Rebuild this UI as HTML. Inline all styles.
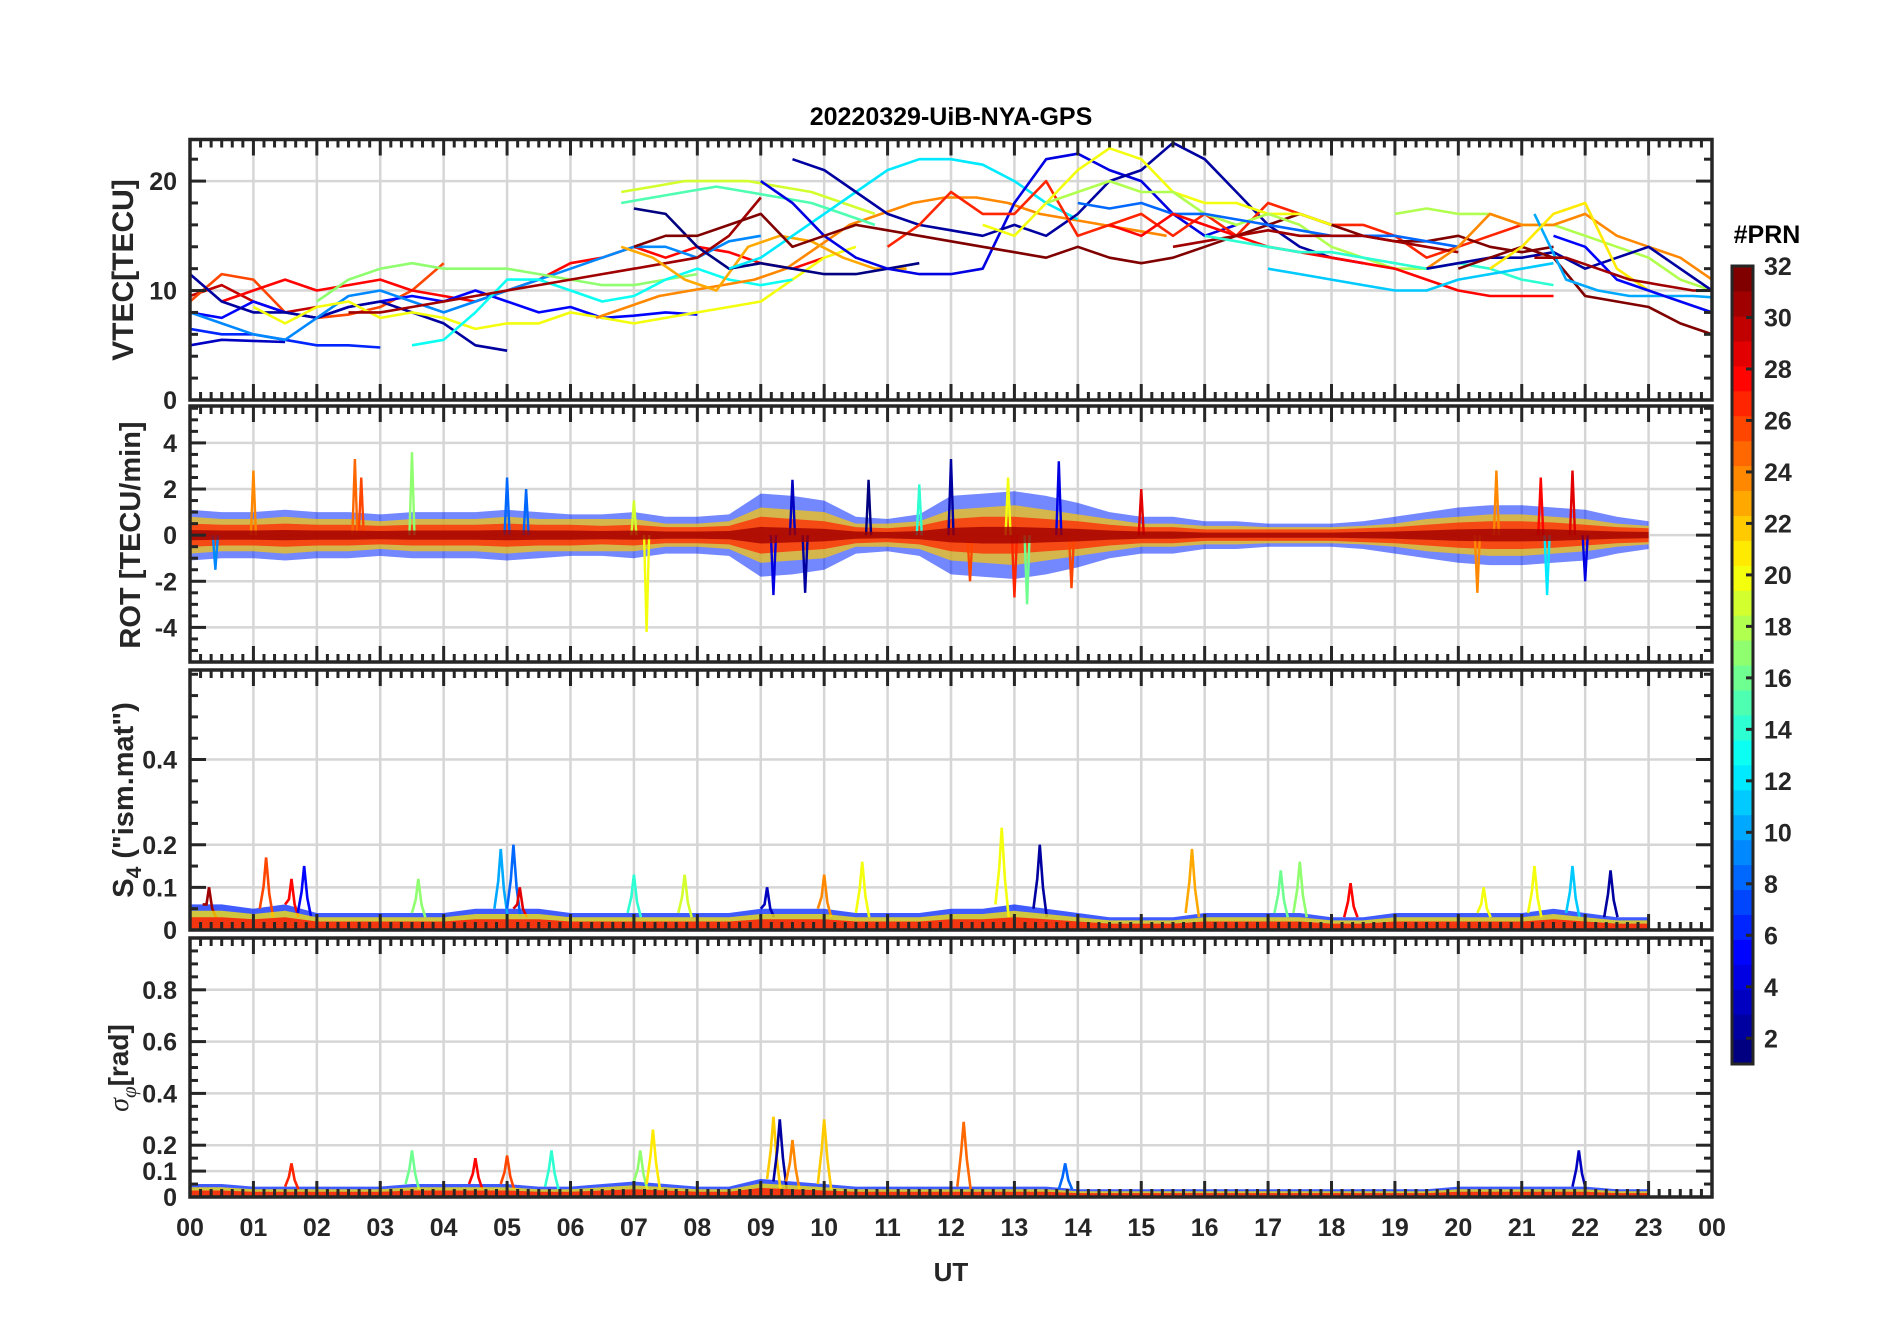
<!DOCTYPE html>
<html><head><meta charset="utf-8">
<style>
html,body{margin:0;padding:0;background:#fff;}
svg{display:block;font-family:"Liberation Sans",Arial,sans-serif;font-weight:bold;}
</style></head>
<body>
<svg id="fig" width="1902" height="1330" viewBox="0 0 1902 1330" xmlns="http://www.w3.org/2000/svg">
<rect width="1902" height="1330" fill="#fff"/>
<text x="951" y="125" font-size="25" text-anchor="middle" fill="#000">20220329-UiB-NYA-GPS</text>
<text x="951" y="1281" font-size="26" text-anchor="middle" fill="#262626">UT</text>
<text transform="translate(133,270) rotate(-90)" font-size="30" text-anchor="middle" fill="#262626">VTEC[TECU]</text>
<text transform="translate(140,535) rotate(-90)" font-size="29" text-anchor="middle" fill="#262626">ROT [TECU/min]</text>
<text transform="translate(133,800) rotate(-90)" font-size="29" text-anchor="middle" fill="#262626">S<tspan font-size="21" dy="8">4</tspan><tspan dy="-8"> ("ism.mat")</tspan></text>
<text transform="translate(128,1068) rotate(-90)" font-size="28" text-anchor="middle" fill="#262626"><tspan font-style="italic" font-weight="normal" font-family="'Liberation Serif',serif">σ</tspan><tspan font-size="21" dy="8" font-style="italic" font-weight="normal" font-family="'Liberation Serif',serif">φ</tspan><tspan dy="-8">[rad]</tspan></text>
<text x="1767" y="243" font-size="25" text-anchor="middle" fill="#000">#PRN</text>
</svg>
<script>
// ---------- data ----------
const hourLabels = ["00","01","02","03","04","05","06","07","08","09","10","11","12","13","14","15","16","17","18","19","20","21","22","23","00"];
const vtecTicks = [0,10,20];
const rotTicks = [-4,-2,0,2,4];
const s4Ticks = [0,0.1,0.2,0.4];
const s4TickLabels = ["0","0.1","0.2","0.4"];
const sigTicks = [0,0.1,0.2,0.4,0.6,0.8];
const sigTickLabels = ["0","0.1","0.2","0.4","0.6","0.8"];
const cbTicks = [2,4,6,8,10,12,14,16,18,20,22,24,26,28,30,32];

// VTEC tracks: PRN, start hour, values every 0.5 h
const vtecPrn   = [30,26,28,5,3,6,2,9,20,17,13,31,24,23,19,15,1,12,4,2,27,32,20,18,8,28,31,14,11,18,24,2,32,10,21,5,31];
const vtecStart = [0,0,0.5,0,0,0,0,0,1,2,3.5,2.5,6.4,6.8,6.8,6.8,7,8.5,9,9.5,11,7,12.5,13.5,14,14.5,15.5,16,17,19,19.5,19.5,20,21.2,20.5,21.5,21.2];
const vtecValues = [
 [9.5,10.5,9,8,8.5],
 [9,11.5,11,8,7.5,7.8,8.5,10,12.5],
 [9,10,11,10,10.5,11,10,9.5,9,10,11,12.5,13,14,13,14,13.5,12.5,12,13],
 [8,7.5,9,8,7.5,8.5,9,9.5,9,10,9,8,8.5,7.5,7.7,8,7.8],
 [5,5.5,5.4,5.3],
 [6.5,6,6,5.5,5,5,4.8],
 [11.5,9,8,8,7.5,8.5,9,8,7,5,4.5],
 [8,7,6,5.5,7.5,9.5,10,9,8,9,10,11,12,13,14,14,13,14.5,15],
 [8.5,7,8.5,9,7.5,8,7.5,6.5,7,7,8,7.5,7,7.5,8,8.5,9,11,13,14],
 [9,11,12,12.5,12,12,12,11.5,11,10.5,10.5,11,11.5],
 [5,5.5,8,11,11,10,9,9.5,11,12,11,10.5,11],
 [8,8,8.5,9,9.5,10,10.5,11,11.5,12,12.5,13,15,18.5],
 [7.5,8.5,9.5,10,10.5,11,12,14,16,17,18,18.5,18.5,18,17,16.5,16,15.5,15],
 [14,13,11,10,14,15,14.5,13,12,12],
 [19,19.5,20,20,20,19.5,19,18,17],
 [18,18.5,19,19.5,19,18.5,18,17,16],
 [17.5,17,14,12,12.5,12,11.5,11.5,12,12.5],
 [12,13,15,17,19,21,22,22,21.5,20,18,16.5],
 [20,18,15,13,12,11.5,11.5,12,18,22,22.5,21,20,17,15,16],
 [22,21,19,17,16,15.5,15,16,15,17,20,21,23.5,22,19,16,14,13,12.5],
 [14,16,19,17,17,20,15,16,17,15,17,15,18,17,16,16,15,13,14,15,16],
 [14,15,15,16,17,14,15,16,15.5,15,14.5,14,13.5,13,14,13,12.5,13,14,15,16,17,16,15,14.5,14.5,15,14,13.5,14],
 [16,15,18,21,23,22,19,18,18,17,17,16],
 [18,19,20,19,19,17,16,17,16,14,13,12,12],
 [18,17.5,18,17,17,16.5,16,15.5,15,15,15,14.5,14],
 [16,15,17,16,15,14,13.5,13,12.5,12,11,10,9.5,9.5,9.5],
 [14,14.5,15,15.5,15,15,15,14.5,14,13.5],
 [15,14.5,14,13.5,13.5,13,12.5,12,12.5,12,11,10.5],
 [12,11.5,11,10.5,10,10,11,11.5,12,12.5],
 [17,17.5,17,17,16,16,15,14,13,11,10,9],
 [12,14,17,16,16,17,15,14,13,11,9.5,9,8.5],
 [12,12.5,13,13,13.5,12,13,14,12,10,9,8.5,8],
 [12,13,14,13,9.5,9,8.5,7,6],
 [17,11,10,9.5,9.5,9.5,9.3],
 [12,14,17,18,12,10,9,8,7.5,7],
 [15,14,11,10,9,8,7],
 [13,13,12,11,10.5,10,10]
];

// ROT envelopes every 0.5 h from 00 UT
const rotOuter = [1.1,1.0,1.0,1.1,1.0,1.0,0.9,1.0,1.0,1.0,1.1,1.0,0.9,0.9,1.0,0.8,0.8,0.9,1.8,1.7,1.5,0.8,0.7,0.9,1.7,1.8,1.9,1.7,1.4,1.0,0.8,0.8,0.6,0.6,0.5,0.5,0.5,0.6,0.8,1.0,1.2,1.3,1.3,1.2,1.1,0.8,0.6];
const rotMid   = [0.8,0.7,0.7,0.8,0.7,0.7,0.6,0.7,0.7,0.7,0.8,0.7,0.7,0.7,0.7,0.5,0.5,0.6,1.2,1.1,1.0,0.5,0.5,0.6,1.1,1.2,1.3,1.1,0.9,0.7,0.5,0.5,0.4,0.4,0.35,0.35,0.35,0.4,0.5,0.7,0.8,0.9,0.9,0.8,0.7,0.5,0.4];
const rotInner = [0.5,0.45,0.45,0.5,0.45,0.45,0.4,0.45,0.45,0.45,0.5,0.45,0.45,0.4,0.45,0.35,0.35,0.4,0.8,0.7,0.6,0.35,0.3,0.4,0.7,0.8,0.8,0.7,0.6,0.45,0.35,0.35,0.25,0.25,0.25,0.25,0.25,0.3,0.35,0.45,0.55,0.6,0.6,0.55,0.45,0.35,0.3];
const rotSpikeT = [0.4,1.0,2.6,2.7,3.5,5.0,5.3,7.0,7.2,9.2,9.5,9.7,10.7,11.5,12.0,12.3,12.9,13.0,13.2,13.7,13.9,15.0,20.3,20.6,21.3,21.4,21.8,22.0];
const rotSpikeV = [-1.5,2.8,3.3,2.5,3.6,2.5,2.0,1.5,-4.2,-2.6,2.4,-2.5,2.4,2.2,3.3,-2.0,2.5,-2.7,-3.0,3.2,-2.3,2.0,-2.5,2.8,2.5,-2.6,2.8,-2.0];
const rotSpikePrn=[9,24,25,26,17,8,8,19,20,4,3,2,1,14,2,26,20,27,16,4,26,29,24,24,28,12,29,4];

// S4 baseline every 0.5 h, and peaks
const s4Base = [0.06,0.06,0.05,0.06,0.04,0.04,0.04,0.04,0.04,0.05,0.05,0.05,0.04,0.04,0.04,0.04,0.04,0.04,0.05,0.05,0.05,0.04,0.04,0.04,0.05,0.05,0.06,0.05,0.04,0.03,0.03,0.03,0.04,0.04,0.04,0.04,0.03,0.03,0.04,0.04,0.04,0.04,0.04,0.05,0.04,0.03,0.03];
const s4PeakT = [0.3,1.2,1.6,1.8,3.6,4.9,5.1,5.2,7.0,7.8,9.1,10.0,10.6,12.8,13.4,15.8,17.2,17.5,18.3,20.4,21.2,21.8,22.4];
const s4PeakV = [0.10,0.17,0.12,0.15,0.12,0.19,0.20,0.10,0.13,0.13,0.10,0.13,0.16,0.24,0.20,0.19,0.14,0.16,0.11,0.10,0.15,0.15,0.14];
const s4PeakPrn=[31,26,28,5,17,10,8,29,14,19,3,24,20,20,2,23,16,17,28,20,20,11,2];

// sigma-phi baseline every 0.5 h, and peaks
const sigBase = [0.05,0.05,0.04,0.04,0.04,0.04,0.04,0.05,0.05,0.05,0.05,0.04,0.04,0.05,0.06,0.05,0.04,0.04,0.07,0.06,0.05,0.04,0.04,0.04,0.04,0.04,0.04,0.04,0.03,0.03,0.03,0.03,0.03,0.03,0.03,0.03,0.03,0.03,0.03,0.03,0.04,0.04,0.04,0.04,0.04,0.03,0.03];
const sigPeakT = [1.6,3.5,4.5,5.0,5.7,7.1,7.3,9.2,9.3,9.5,10.0,12.2,13.8,21.9];
const sigPeakV = [0.13,0.18,0.15,0.16,0.18,0.18,0.26,0.31,0.30,0.22,0.30,0.29,0.13,0.18];
const sigPeakPrn=[27,16,28,26,14,17,21,22,2,24,22,25,8,3];

// ---------- layout ----------
const NS="http://www.w3.org/2000/svg";
const svg=document.getElementById('fig');
const X0=190, X1=1712;
const xs=h=>X0+(X1-X0)*h/24;
const panels=[
 {name:'vtec',top:139.5,bot:400,min:0,max:23.8,major:vtecTicks,labels:vtecTicks.map(String),grid:vtecTicks,minor:2},
 {name:'rot',top:406,bot:662,min:-5.5,max:5.6,major:rotTicks,labels:rotTicks.map(String),grid:rotTicks,minor:0.5},
 {name:'s4',top:670,bot:930,min:0,max:0.61,major:s4Ticks,labels:s4TickLabels,grid:s4Ticks,minor:0.05},
 {name:'sigma',top:938,bot:1197,min:0,max:1.0,major:sigTicks,labels:sigTickLabels,grid:sigTicks,minor:0.05}
];
panels.forEach(p=>{p.y=v=>p.bot-(p.bot-p.top)*(v-p.min)/(p.max-p.min);});

function jet(n){const t=(n-1)/31;const c=x=>Math.round(255*Math.max(0,Math.min(1,x)));
 return `rgb(${c(1.5-Math.abs(4*t-3))},${c(1.5-Math.abs(4*t-2))},${c(1.5-Math.abs(4*t-1))})`;}
function mk(tag,attrs,parent){const e=document.createElementNS(NS,tag);for(const k in attrs)e.setAttribute(k,attrs[k]);(parent||svg).appendChild(e);return e;}

panels.forEach(p=>{
 const g=mk('g',{});
 
 
 const cp=mk('clipPath',{id:'clip-'+p.name},g);
 mk('rect',{x:X0,y:p.top,width:X1-X0,height:p.bot-p.top},cp);
 for(let h=1;h<24;h++){const l=mk('line',{x1:xs(h),x2:xs(h),y1:p.top,y2:p.bot,stroke:'#d6d6d6','stroke-width':2.5},g);
  
  }
 p.grid.forEach(v=>{const l=mk('line',{x1:X0,x2:X1,y1:p.y(v),y2:p.y(v),stroke:'#d6d6d6','stroke-width':2.5},g);
  
  });
 p.g=mk('g',{'clip-path':`url(#clip-${p.name})`},g);
 
 
 p.frame=g;
});

// VTEC series
const P1=panels[0];
vtecValues.forEach((vals,i)=>{
 const pts=vals.map((v,j)=>`${xs(vtecStart[i]+0.5*j).toFixed(1)},${P1.y(v).toFixed(1)}`).join(' ');
 const pl=mk('polyline',{points:pts,fill:'none',stroke:jet(vtecPrn[i]),'stroke-width':2.6,'stroke-linejoin':'round'},P1.g);
 
 
});

// ROT bands
const P2=panels[1];
function band(arr,prn,nm,op){
 const up=arr.map((v,j)=>`${xs(0.5*j).toFixed(1)},${P2.y(v).toFixed(1)}`);
 const dn=arr.map((v,j)=>`${xs(0.5*j).toFixed(1)},${P2.y(-v).toFixed(1)}`).reverse();
 const pg=mk('polygon',{points:up.concat(dn).join(' '),fill:jet(prn),'fill-opacity':op,stroke:'none'},P2.g);
 
 
}
band(rotOuter,6,'rot-band-outer',0.55);
band(rotMid,22,'rot-band-mid',0.7);
band(rotInner,27,'rot-band-inner',0.75);
rotSpikeT.forEach((t,i)=>{
 const pl=mk('polyline',{points:`${xs(t-0.04)},${P2.y(0)} ${xs(t)},${P2.y(rotSpikeV[i])} ${xs(t+0.04)},${P2.y(0)}`,fill:'none',stroke:jet(rotSpikePrn[i]),'stroke-width':2.4},P2.g);
 
 
});
band(rotInner.map(v=>v*0.45),31,'rot-band-core',0.8);

// baseline + peaks helper
function scint(p,base,pt,pv,pp,nm){
 const mkArea=(k,prn,n2)=>{
  const up=base.map((v,j)=>`${xs(0.5*j).toFixed(1)},${p.y(v*k).toFixed(1)}`);
  const pts=up.concat([`${xs(0.5*(base.length-1))},${p.y(0)}`,`${xs(0)},${p.y(0)}`]);
  const pg=mk('polygon',{points:pts.join(' '),fill:jet(prn),'fill-opacity':0.75,stroke:'none'},p.g);
  
  
 };
 mkArea(1,6,nm+'-baseline-blue');
 pt.forEach((t,i)=>{
  const pl=mk('polyline',{points:`${xs(t-0.1)},${p.y(base[Math.round(t*2)]||0.03)} ${xs(t-0.04)},${p.y(pv[i]*0.6)} ${xs(t)},${p.y(pv[i])} ${xs(t+0.05)},${p.y(pv[i]*0.5)} ${xs(t+0.11)},${p.y(0.03)}`,fill:'none',stroke:jet(pp[i]),'stroke-width':2.6},p.g);
  
  
 });
 mkArea(0.75,21,nm+'-baseline-yellow');
 mkArea(0.5,28,nm+'-baseline-red');
}
scint(panels[2],s4Base,s4PeakT,s4PeakV,s4PeakPrn,'s4');
scint(panels[3],sigBase,sigPeakT,sigPeakV,sigPeakPrn,'sigma');

// frames and ticks
panels.forEach(p=>{
 const g=p.frame, c='#262626';
 const tk=(x1,y1,x2,y2,w)=>mk('line',{x1,y1,x2,y2,stroke:c,'stroke-width':w||3},g);
 for(let m=0;m<=144;m++){const h=m/6,x=xs(h),L=(m%6===0)?16:8;tk(x,p.top,x,p.top+L);tk(x,p.bot,x,p.bot-L);}
 const start=Math.ceil(p.min/p.minor-1e-9);
 for(let k=start;p.minor*k<=p.max+1e-9;k++){const v=p.minor*k,y=p.y(v);
  const isMaj=p.major.some(m=>Math.abs(m-v)<1e-9);const L=isMaj?16:8;
  tk(X0,y,X0+L,y);tk(X1,y,X1-L,y);}
 p.major.forEach((v,i)=>{const t=mk('text',{x:177,y:p.y(v)+9,'font-size':25,'text-anchor':'end',fill:c},g);t.textContent=p.labels[i];
  
  });
 const r=mk('rect',{x:X0,y:p.top,width:X1-X0,height:p.bot-p.top,fill:'none',stroke:c,'stroke-width':3.5},g);
 
 
});
hourLabels.forEach((s,i)=>{const t=mk('text',{x:xs(i),y:1236,'font-size':25,'text-anchor':'middle',fill:'#262626'});t.textContent=s;
 
 });

// colorbar
const CB={x:1732,w:21,top:266,bot:1064,min:1,max:32};
const cy=v=>CB.bot-(CB.bot-CB.top)*(v-CB.min)/(CB.max-CB.min);
const cbg=mk('g',{});


for(let k=0;k<32;k++){const y0=CB.bot-(CB.bot-CB.top)*k/32,y1=CB.bot-(CB.bot-CB.top)*(k+1)/32;
 const r=mk('rect',{x:CB.x,y:y1,width:CB.w,height:y0-y1+0.6,fill:jet(k+1)},cbg);
 
 }
mk('rect',{x:CB.x,y:CB.top,width:CB.w,height:CB.bot-CB.top,fill:'none',stroke:'#262626','stroke-width':3},cbg);
cbTicks.forEach(v=>{mk('line',{x1:CB.x+CB.w,x2:CB.x+CB.w-7,y1:cy(v),y2:cy(v),stroke:'#262626','stroke-width':3},cbg);
 const t=mk('text',{x:1764,y:cy(v)+9,'font-size':25,fill:'#262626'},cbg);t.textContent=String(v);
 
 });
</script>
</body></html>
